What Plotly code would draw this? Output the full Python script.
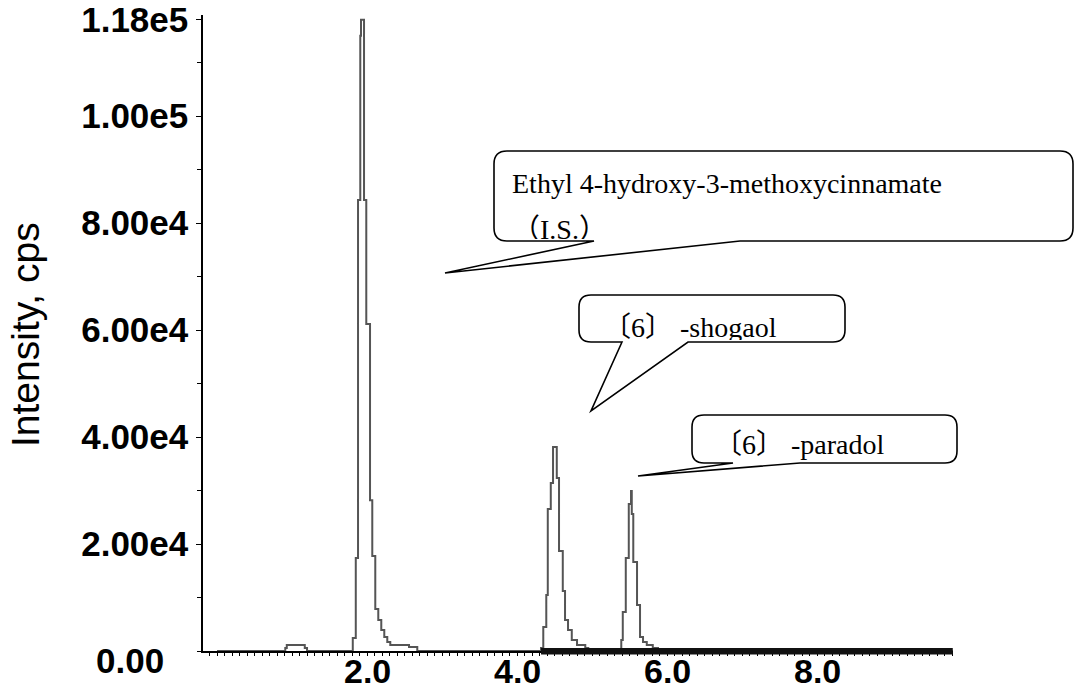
import plotly.graph_objects as go

# ---------------- data ----------------
time_min = [0.00, 0.91, 0.93, 1.17, 1.20, 1.77, 1.81, 1.85, 1.88, 1.91, 1.92, 1.96, 1.99,
            2.04, 2.07, 2.11, 2.15, 2.19, 2.23, 2.27, 2.31, 2.56, 2.67, 4.30, 4.32, 4.35,
            4.39, 4.41, 4.45, 4.48, 4.53, 4.56, 4.61, 4.64, 4.68, 4.73, 4.80, 4.91, 4.95,
            5.36, 5.39, 5.41, 5.45, 5.49, 5.52, 5.53, 5.55, 5.60, 5.64, 5.68, 5.73, 5.81,
            5.88, 9.81]
intensity_cps = [0, 560, 1120, 560, 0, 0, 2430, 17400, 84300, 115000, 118000, 84300, 61100,
                 28200, 17760, 7850, 5790, 3920, 2620, 1680, 1120, 750, 0, 0, 560, 4490,
                 10470, 26540, 31400, 38130, 32330, 18690, 11210, 5790, 3920, 2060, 1120, 560, 0,
                 0, 2060, 7290, 17380, 27470, 29900, 25600, 16630, 8600, 2620, 1680, 1120, 560,
                 0, 0]
noise_time = [4.32, 9.81]          # thick noisy baseline region

y_tick_values = [20000, 40000, 60000, 80000, 100000, 118000]
y_tick_labels = ["2.00e4", "4.00e4", "6.00e4", "8.00e4", "1.00e5", "1.18e5"]
y_zero_label = "0.00"
x_tick_values = [2, 4, 6, 8]
x_tick_labels = ["2.0", "4.0", "6.0", "8.0"]

callout_texts = [["Ethyl 4-hydroxy-3-methoxycinnamate", "（I.S.）"],
                 ["〔6〕 -shogaol"],
                 ["〔6〕 -paradol"]]

# ---------------- layout geometry (pixels) ----------------
W, H = 1075, 693
ML, MR, MT, MB = 203, 122, 15, 42
PW, PH = W - ML - MR, H - MT - MB
XR = [-0.187, 9.813]
YR = [0, 118880]

def paper(px, py):
    return (px - ML) / PW, (H - MB - py) / PH

def data_x(px):
    return XR[0] + (px - ML) / PW * (XR[1] - XR[0])

def data_y(py):
    return YR[0] + (H - MB - py) / PH * (YR[1] - YR[0])

# bubble: left, top, right, bottom, tail point A x, tail point B x, tip (x, y), radius
bubbles = [
    dict(l=494, t=151, r=1073, b=241, a=594, bb=740, tip=(445, 273), rad=13,
         text_x=512, text_y=[186, 232], strip=(505, 940)),
    dict(l=579, t=295, r=845, b=342, a=622, bb=688, tip=(591, 411), rad=12,
         text_x=603, text_y=[330], strip=(595, 800)),
    dict(l=692, t=415, r=957, b=463, a=733, bb=800, tip=(638, 476), rad=12,
         text_x=714, text_y=[447], strip=(705, 905)),
]

def pt(px, py):
    x, y = paper(px, py)
    return f"{x:.5f},{y:.5f}"

def bubble_path(b):
    l, t, r, bt, rad = b["l"], b["t"], b["r"], b["b"], b["rad"]
    s = f"M {pt(b['a'], bt)} L {pt(*b['tip'])} L {pt(b['bb'], bt)} "
    s += f"L {pt(r - rad, bt)} Q {pt(r, bt)} {pt(r, bt - rad)} "
    s += f"L {pt(r, t + rad)} Q {pt(r, t)} {pt(r - rad, t)} "
    s += f"L {pt(l + rad, t)} Q {pt(l, t)} {pt(l, t + rad)} "
    s += f"L {pt(l, bt - rad)} Q {pt(l, bt)} {pt(l + rad, bt)} Z"
    return s

fig = go.Figure()

fig.add_trace(go.Scatter(x=time_min, y=intensity_cps, mode="lines",
                         line=dict(color="#555555", width=2, shape="hv"),
                         hoverinfo="skip", showlegend=False))

# callout texts (as trace text so that the bubble edge can clip them)
for b, lines in zip(bubbles, callout_texts):
    for ty, txt in zip(b["text_y"], lines):
        fig.add_trace(go.Scatter(x=[data_x(b["text_x"])], y=[data_y(ty)], mode="text",
                                 text=[txt], textposition="middle right",
                                 textfont=dict(family="Liberation Serif, Noto Sans CJK SC",
                                               size=28, color="black"),
                                 cliponaxis=False, hoverinfo="skip", showlegend=False))

shapes = []
# thick noisy baseline (covers the minor ticks there, as in the reference)
_, band_top = paper(0, 648)
_, band_bot = paper(0, 654.5)
shapes.append(dict(type="rect", xref="x", yref="paper", x0=noise_time[0], x1=noise_time[1],
                   y0=band_bot, y1=band_top, fillcolor="#111111", line=dict(width=0),
                   layer="above"))
for b in bubbles:
    x0, y0 = paper(b["strip"][0], b["b"] - 2)
    x1, y1 = paper(b["strip"][1], b["b"] + 12)
    shapes.append(dict(type="rect", xref="paper", yref="paper", x0=x0, x1=x1, y0=y0, y1=y1,
                       fillcolor="white", line=dict(width=0), layer="above"))
for b in bubbles:
    shapes.append(dict(type="path", xref="paper", yref="paper", path=bubble_path(b),
                       line=dict(color="black", width=1.6), layer="above"))

tick_font = dict(family="Liberation Sans, Arial", size=35, color="black", weight="bold")
xlab_font = dict(family="Liberation Sans, Arial", size=34, color="black", weight="bold")

annotations = []
tx, ty = paper(25, 335)
annotations.append(dict(text="Intensity, cps", xref="paper", yref="paper", x=tx, y=ty,
                        textangle=-90, showarrow=False, xanchor="center", yanchor="middle",
                        font=dict(family="Liberation Sans, Arial", size=39, color="black")))
_, xl_y = paper(0, 671)
for v, lab in zip(x_tick_values, x_tick_labels):
    annotations.append(dict(text=lab, xref="x", yref="paper", x=v, y=xl_y, showarrow=False,
                            xanchor="center", yanchor="middle", font=xlab_font))
zx, zy = paper(130, 660)
annotations.append(dict(text=y_zero_label, xref="paper", yref="paper", x=zx, y=zy,
                        showarrow=False, xanchor="center", yanchor="middle", font=tick_font))

fig.update_layout(
    width=W, height=H,
    margin=dict(l=ML, r=MR, t=MT, b=MB),
    paper_bgcolor="white", plot_bgcolor="white",
    shapes=shapes,
    annotations=annotations,
    xaxis=dict(range=XR, showgrid=False, zeroline=False, showline=True, linecolor="black",
               linewidth=1.5, ticks="outside", ticklen=3, tickcolor="black",
               tickvals=x_tick_values, showticklabels=False, automargin=False,
               minor=dict(dtick=0.1, tick0=0, ticks="outside", ticklen=3, tickcolor="black"),
               fixedrange=True),
    yaxis=dict(range=YR, showgrid=False, zeroline=False, showline=True, linecolor="black",
               linewidth=1.5, ticks="outside", ticklen=5, tickcolor="black",
               tickvals=y_tick_values, ticktext=y_tick_labels, ticklabelstandoff=1,
               automargin=False, ticklabeloverflow="allow", tickfont=tick_font,
               minor=dict(dtick=10000, tick0=0, ticks="outside", ticklen=4, tickcolor="black"),
               fixedrange=True),
)

fig.write_html("out.html")
